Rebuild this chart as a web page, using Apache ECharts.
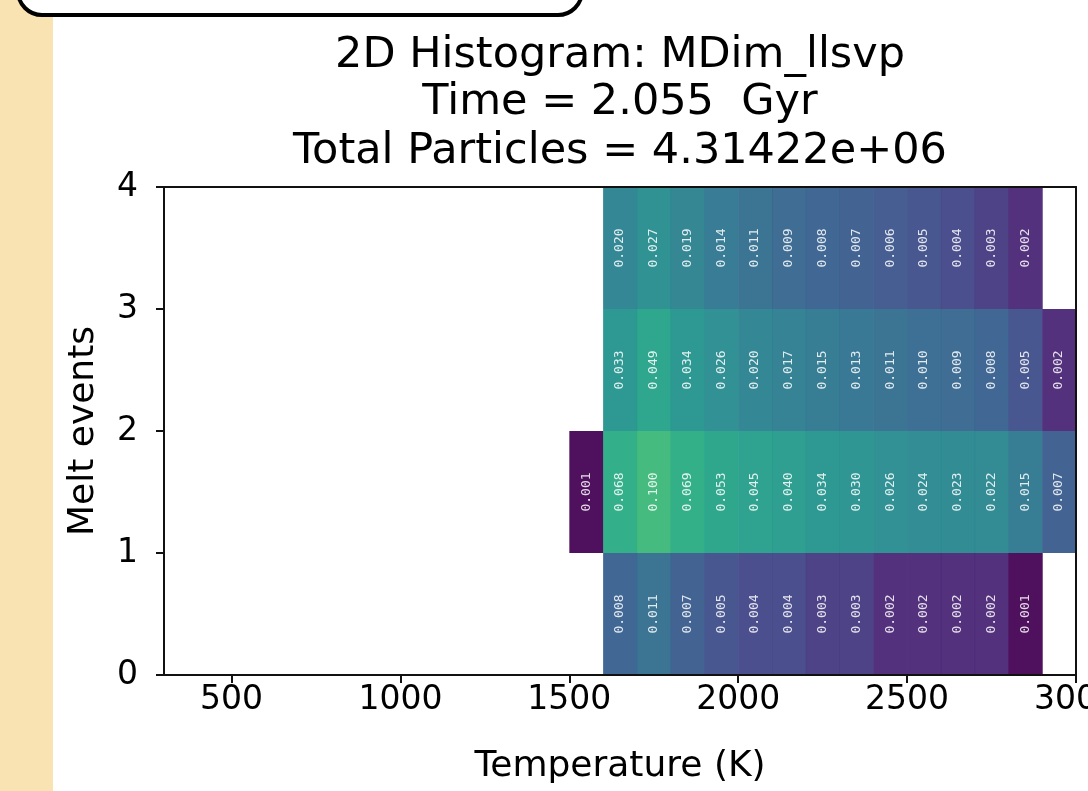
<!DOCTYPE html>
<html>
<head>
<meta charset="utf-8">
<script src="https://cdn.jsdelivr.net/npm/echarts@6/dist/echarts.min.js"></script>
<style>
  html, body { margin: 0; padding: 0; background: #ffffff; }
  #hist_chart { width: 1088px; height: 791px; }
</style>
</head>
<body>
<div id="hist_chart"></div>
<script>
// histogram bins: 100 K wide in temperature, 1 melt event high
var binWidth = 100;
var meltLevels = [0, 1, 2, 3];
var rowStartTemps = [1600, 1500, 1600, 1600];

// fraction of particles per bin, one array per melt-event row
var fracMelt0 = [0.008, 0.011, 0.007, 0.005, 0.004, 0.004, 0.003, 0.003, 0.002, 0.002, 0.002, 0.002, 0.001];
var fracMelt1 = [0.001, 0.068, 0.100, 0.069, 0.053, 0.045, 0.040, 0.034, 0.030, 0.026, 0.024, 0.023, 0.022, 0.015, 0.007];
var fracMelt2 = [0.033, 0.049, 0.034, 0.026, 0.020, 0.017, 0.015, 0.013, 0.011, 0.010, 0.009, 0.008, 0.005, 0.002];
var fracMelt3 = [0.020, 0.027, 0.019, 0.014, 0.011, 0.009, 0.008, 0.007, 0.006, 0.005, 0.004, 0.003, 0.002];

var tempTicks = [500, 1000, 1500, 2000, 2500, 3000];
var titleLines = ["2D Histogram: MDim_llsvp", "Time = 2.055  Gyr", "Total Particles = 4.31422e+06"];

var viridis = ["#440154", "#482475", "#414487", "#355f8d", "#2a788e", "#21918c",
               "#22a884", "#44bf70", "#7ad151", "#bddf26", "#fde725"];

var rows = [fracMelt0, fracMelt1, fracMelt2, fracMelt3];
var cells = [];
rows.forEach(function (vals, r) {
  vals.forEach(function (v, i) {
    // log10 used for the colour scale (log norm 0.001 .. 1)
    cells.push([rowStartTemps[r] + i * binWidth, meltLevels[r], v, Math.log10(v)]);
  });
});

var chartDom = document.getElementById("hist_chart");
var myChart = echarts.init(chartDom);
var option;

var axisColor = "#111111";
var font = "DejaVu Sans";

function titleText(str, y) {
  return {
    type: "text", x: 620, y: y,
    style: { text: str, font: "43px 'DejaVu Sans'", fill: "#000",
      align: "center", verticalAlign: "middle", textAlign: "center", textVerticalAlign: "middle" }
  };
}

option = {
  backgroundColor: "#ffffff",
  animation: false,
  graphic: [
    { type: "rect", shape: { x: 0, y: 0, width: 53, height: 791 }, style: { fill: "#fae3b2" }, z: -10 },
    { type: "rect", shape: { x: 18, y: -40, width: 564, height: 55, r: 24 },
      style: { fill: "#ffffff", stroke: "#000000", lineWidth: 4 }, z: -5 },
    titleText(titleLines[0], 56),
    titleText(titleLines[1], 103),
    titleText(titleLines[2], 152)
  ],
  grid: { left: 164, right: 12, top: 187, bottom: 116, containLabel: false, outerBoundsMode: "none" },
  visualMap: {
    show: false,
    type: "continuous",
    dimension: 3,
    min: -3,
    max: 0,
    seriesIndex: 0,
    inRange: { color: viridis }
  },
  xAxis: [
    {
      type: "value", min: 300, max: 3000, position: "bottom", z: 10,
      name: "Temperature (K)", nameLocation: "middle", nameGap: 74,
      nameTextStyle: { fontSize: 36, color: "#000", fontFamily: font },
      axisLine: { onZero: false, lineStyle: { color: axisColor, width: 2 } },
      axisTick: { length: 8, customValues: tempTicks, lineStyle: { color: axisColor, width: 2 } },
      axisLabel: { customValues: tempTicks, fontSize: 33, color: "#000", fontFamily: font, margin: 9,
        formatter: function (v) { return String(v); } },
      splitLine: { show: false }
    },
    {
      type: "value", min: 300, max: 3000, position: "top", z: 10,
      axisLine: { onZero: false, lineStyle: { color: axisColor, width: 2 } },
      axisTick: { show: false }, axisLabel: { show: false }, splitLine: { show: false }
    }
  ],
  yAxis: [
    {
      type: "value", min: 0, max: 4, interval: 1, position: "left", z: 10,
      name: "Melt events", nameLocation: "middle", nameGap: 62, nameRotate: 90,
      nameTextStyle: { fontSize: 36, color: "#000", fontFamily: font },
      axisLine: { onZero: false, lineStyle: { color: axisColor, width: 2 } },
      axisTick: { length: 8, lineStyle: { color: axisColor, width: 2 } },
      axisLabel: { fontSize: 33, color: "#000", fontFamily: font, margin: 26 },
      splitLine: { show: false }
    },
    {
      type: "value", min: 0, max: 4, position: "right", z: 10,
      axisLine: { onZero: false, lineStyle: { color: axisColor, width: 2 } },
      axisTick: { show: false }, axisLabel: { show: false }, splitLine: { show: false }
    }
  ],
  series: [
    {
      name: "MDim_llsvp",
      type: "custom",
      xAxisIndex: 0,
      yAxisIndex: 0,
      dimensions: ["temp", "melt", "frac", "logfrac"],
      encode: { x: 0, y: 1 },
      data: cells,
      renderItem: function (params, api) {
        var x0 = api.value(0);
        var y0 = api.value(1);
        var v = api.value(2);
        var p0 = api.coord([x0, y0 + 1]);
        var p1 = api.coord([x0 + binWidth, y0]);
        return {
          type: "group",
          children: [
            {
              type: "rect",
              shape: { x: p0[0], y: p0[1], width: p1[0] - p0[0] + 0.5, height: p1[1] - p0[1] },
              style: { fill: api.visual("color"), opacity: 0.94 }
            },
            {
              type: "text",
              x: (p0[0] + p1[0]) / 2,
              y: (p0[1] + p1[1]) / 2,
              rotation: Math.PI / 2,
              style: {
                text: v.toFixed(3),
                fill: "rgba(255,255,255,0.85)",
                font: "13px 'DejaVu Sans Mono'",
                align: "center",
                verticalAlign: "middle"
              }
            }
          ]
        };
      }
    }
  ]
};

option && myChart.setOption(option);
</script>
</body>
</html>
